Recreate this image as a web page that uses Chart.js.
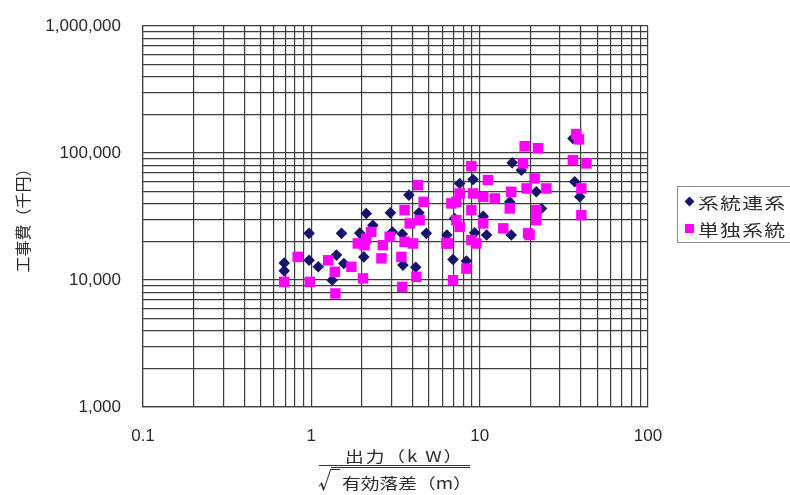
<!DOCTYPE html>
<html lang="ja">
<head>
<meta charset="utf-8">
<title>工事費</title>
<script src="https://cdn.jsdelivr.net/npm/chart.js"></script>
<style>
  body { margin: 0; background: #fff; }
  #wrap { position: relative; width: 790px; height: 495px; background: #fff; overflow: hidden; }
  #wrap, #wrap div { font-family: "Noto Sans CJK JP", "Liberation Sans", sans-serif; color: #2a2a2a; }
  .abs { position: absolute; white-space: nowrap; }
  .wide { transform: scaleX(1.25); transform-origin: left center; }
  #legend { position: absolute; left: 677px; top: 186px; width: 130px; height: 55px; border: 1px solid #8c8c8c; }
  .item { position: absolute; left: 20px; font-size: 16px; line-height: 18px; letter-spacing: 1px;
          transform: scaleX(1.3); transform-origin: left center; }
  .mark { position: absolute; }
</style>
</head>
<body>
<div id="wrap">
  <canvas id="chart" width="790" height="495"></canvas>
  <div id="legend"></div>
  <!-- 横軸タイトル（分数） -->
  <div class="abs wide" style="left:345px; top:447px; font-size:15px; line-height:18px; letter-spacing:1.5px;">出力（k W）</div>
  <div class="abs" style="left:319px; top:465px; width:151px; height:0; border-top:1px solid #333;"></div>
  <div class="abs" style="left:331px; top:467px; width:139px; height:0; border-top:1px solid #333;"></div>
  <div class="abs" style="left:318px; top:465px; font-size:22px; line-height:26px;">√</div>
  <div class="abs wide" style="left:342px; top:474px; font-size:15px; line-height:18px;">有効落差（m）</div>
</div>
<script>
"use strict";

// 系列名
const seriesNames = ["系統連系", "単独系統"];

// 系統連系
const renkeiX = [0.69, 0.69, 0.97, 0.97, 1.1, 1.51, 1.33, 1.41, 1.56, 2.12, 2.05, 2.95, 3.8, 2.32,
  3.03, 3.47, 4.36, 4.82, 4.17, 3.5, 7.61, 9.13, 6.94, 8.34, 6.39, 9.34, 15.6, 17.7, 7.1, 10.5,
  11.0, 15.1, 15.4, 21.7, 23.3, 35.8, 36.7, 39.3, 1.94];
const renkeiY = [13600, 11800, 23300, 14300, 12700, 23300, 9960, 15700, 13500, 33400, 15200, 33800,
  46600, 27000, 23900, 23000, 33800, 23300, 12600, 13100, 57600, 61900, 14500, 14100, 22600, 23500,
  83700, 73300, 30500, 31800, 22600, 41200, 22600, 49500, 36600, 130000, 59300, 45200, 23400];

// 単独系統
const dokuritsuX = [0.69, 0.83, 0.98, 1.26, 1.38, 1.39, 1.73, 2.03, 1.89, 2.12, 4.3, 4.65, 3.58, 3.84,
  4.4, 3.58, 4.02, 3.43, 4.21, 3.47, 2.07, 2.27, 2.66, 2.92, 2.61, 6.79, 7.27, 6.48, 6.94, 8.34, 8.93,
  8.93, 11.2, 18.5, 22.2, 18.1, 21.2, 24.9, 19.0, 15.4, 15.1, 13.8, 19.4, 21.7, 21.7, 12.3, 10.5, 9.13,
  7.61, 7.27, 7.61, 10.5, 8.93, 9.56, 6.34, 19.8, 37.5, 38.9, 35.8, 43.1, 40.2, 40.2];
const dokuritsuY = [9660, 15200, 9660, 14300, 11600, 7830, 12700, 10300, 19400, 21200, 55900, 41200,
  35500, 27900, 29600, 20000, 19400, 15200, 10600, 8820, 18800, 23900, 18800, 21900, 14800, 40100,
  29600, 19400, 9960, 12300, 35500, 78900, 61200, 113000, 109000, 82800, 63100, 52600, 52600, 49500,
  36600, 25500, 23300, 35500, 29600, 43900, 45200, 48000, 48000, 41200, 26200, 27900, 20600, 19400,
  19400, 22600, 141000, 128000, 87900, 82800, 52600, 32400];

// 目盛りラベル（10のべき乗）
const xTicks = [0.1, 1, 10, 100];
const yTicks = [1000, 10000, 100000, 1000000];

const navy = "#14146a";
const magenta = "#ff00ff";
const gridColor = "#3c3c3c";
const textColor = "#2a2a2a";
const numFont = "'Liberation Sans', Arial, sans-serif";

// x,y の配列を点のリストにする
function toPoints(xs, ys) {
  return xs.map((x, i) => ({ x: x, y: ys[i] }));
}

// 対数目盛りの線 (1〜9 × 10^n)
function logGrid(majors) {
  const list = [];
  for (let i = 0; i < majors.length - 1; i++) {
    for (let m = 1; m < 10; m++) {
      list.push(Number((majors[i] * m).toPrecision(3)));
    }
  }
  list.push(majors[majors.length - 1]);
  return list;
}

const config = {
  type: "scatter",
  data: {
    datasets: [
      {
        label: seriesNames[0],
        data: toPoints(renkeiX, renkeiY),
        pointStyle: "rectRot",
        pointRadius: 5.8,
        borderWidth: 0,
        backgroundColor: navy,
        borderColor: navy,
        order: 2,
      },
      {
        label: seriesNames[1],
        data: toPoints(dokuritsuX, dokuritsuY),
        pointStyle: "rect",
        pointRadius: 7.4,
        borderWidth: 0,
        backgroundColor: magenta,
        borderColor: magenta,
        order: 1, // 単独系統を上に描く
      },
    ],
  },
  options: {
    responsive: false,
    animation: false,
    events: [],
    devicePixelRatio: 1,
    layout: { padding: { left: 0, right: 142, top: 26, bottom: 0 } },
    plugins: { legend: { display: false }, tooltip: { enabled: false } },
    scales: {
      x: {
        type: "logarithmic",
        min: 0.1,
        max: 100,
        afterBuildTicks: (s) => {
          s.ticks = logGrid(xTicks).map((v) => ({ value: v }));
        },
        afterFit: (s) => {
          s.height = 88;
        },
        grid: { color: gridColor, lineWidth: 1.2, drawTicks: false },
        border: { color: gridColor, width: 1.2 },
        ticks: {
          autoSkip: false,
          maxRotation: 0,
          padding: 19,
          color: textColor,
          font: { family: numFont, size: 17 },
          callback: (v) => (xTicks.includes(v) ? String(v) : ""),
        },
      },
      y: {
        type: "logarithmic",
        min: 1000,
        max: 1000000,
        afterBuildTicks: (s) => {
          s.ticks = logGrid(yTicks).map((v) => ({ value: v }));
        },
        afterFit: (s) => {
          s.width = 143;
          // ラベルの余白が上端に足されないようにする
          s.paddingTop = 6;
          s.paddingBottom = 6;
        },
        grid: { color: gridColor, lineWidth: 1.2, drawTicks: false },
        border: { color: gridColor, width: 1.2 },
        ticks: {
          autoSkip: false,
          padding: 22,
          color: textColor,
          font: { family: numFont, size: 17 },
          callback: (v) => (yTicks.includes(v) ? v.toLocaleString("en-US") : ""),
        },
        title: {
          display: true,
          text: "工事費（千円）",
          color: textColor,
          padding: { top: 13, bottom: 0 },
          font: { family: "'Noto Sans CJK JP', sans-serif", size: 16 },
        },
      },
    },
  },
};

new Chart(document.getElementById("chart"), config);

// 凡例
const legend = document.getElementById("legend");
const legendItems = [
  { name: seriesNames[0], color: navy, diamond: true, top: 6 },
  { name: seriesNames[1], color: magenta, diamond: false, top: 33 },
];
legendItems.forEach((it) => {
  const mark = document.createElement("div");
  mark.className = "mark";
  if (it.diamond) {
    mark.style.cssText = `left:8px; top:${it.top + 5}px; width:7px; height:7px; background:${it.color}; transform:rotate(45deg);`;
  } else {
    mark.style.cssText = `left:7px; top:${it.top + 4}px; width:9px; height:9px; background:${it.color};`;
  }
  legend.appendChild(mark);

  const text = document.createElement("div");
  text.className = "item";
  text.style.top = it.top + "px";
  text.textContent = it.name;
  legend.appendChild(text);
});
</script>
</body>
</html>
